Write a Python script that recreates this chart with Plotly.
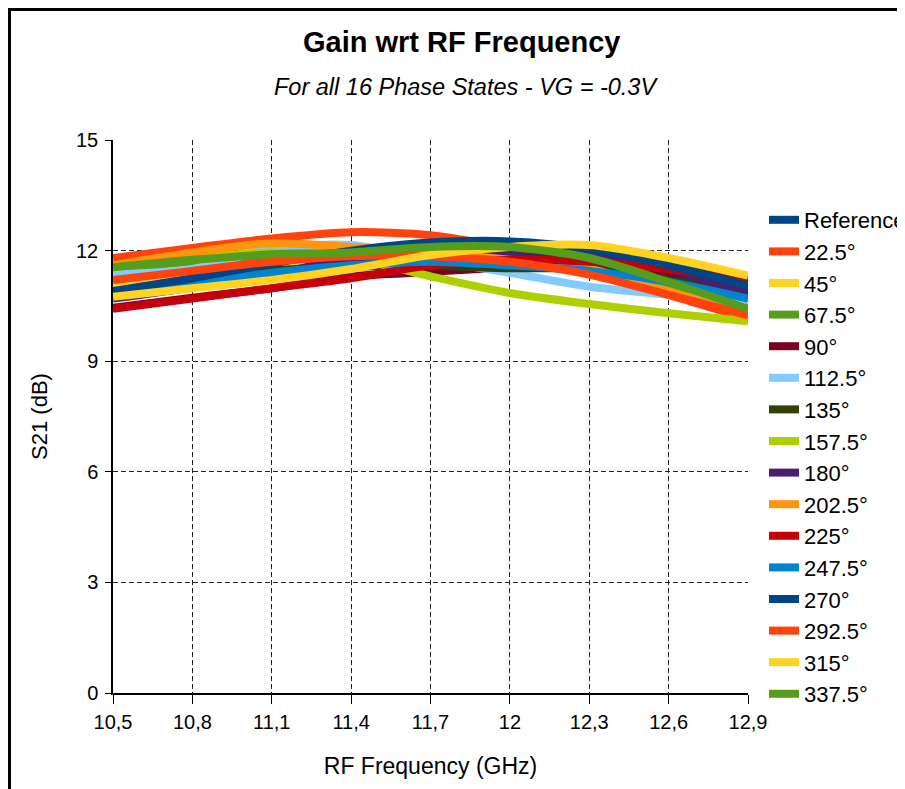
import plotly.graph_objects as go

freq = [10.5, 10.8, 11.1, 11.4, 11.7, 12.0, 12.3, 12.6, 12.9]

names = ["Reference", "22.5°", "45°", "67.5°", "90°", "112.5°", "135°", "157.5°",
         "180°", "202.5°", "225°", "247.5°", "270°", "292.5°", "315°", "337.5°"]

colors = ["#004586", "#ff420e", "#ffd320", "#579d1c", "#7e0021", "#83caff", "#314004", "#aecf00",
          "#4b1f6f", "#ff950e", "#c5000b", "#0084d1", "#004586", "#ff420e", "#ffd320", "#579d1c"]

s_ref   = [10.80, 11.15, 11.55, 11.95, 12.15, 12.20, 12.00, 11.65, 11.10]
s_22_5  = [11.80, 12.07, 12.33, 12.50, 12.42, 12.05, 11.40, 10.80, 10.15]
s_45    = [11.00, 11.25, 11.50, 11.75, 11.95, 11.95, 11.75, 11.40, 10.90]
s_67_5  = [11.50, 11.70, 11.85, 11.95, 12.05, 12.05, 11.75, 11.10, 10.40]
s_90    = [10.45, 10.72, 10.98, 11.30, 11.42, 11.55, 11.55, 11.35, 11.00]
s_112_5 = [11.35, 11.50, 12.05, 12.15, 11.75, 11.40, 11.02, 10.80, 10.55]
s_135   = [10.72, 11.05, 11.45, 11.56, 11.58, 11.52, 11.50, 11.20, 10.90]
s_157_5 = [11.55, 11.80, 11.95, 11.80, 11.30, 10.85, 10.55, 10.30, 10.08]
s_180   = [10.70, 11.00, 11.34, 11.80, 11.80, 11.93, 11.88, 11.50, 10.80]
s_202_5 = [11.60, 11.95, 12.20, 12.10, 11.95, 11.75, 11.50, 10.90, 10.20]
s_225   = [10.42, 10.70, 10.98, 11.25, 11.60, 11.75, 11.70, 11.50, 11.20]
s_247_5 = [10.80, 11.10, 11.40, 11.60, 11.70, 11.60, 11.45, 11.15, 10.70]
s_270   = [10.90, 11.25, 11.65, 12.00, 12.22, 12.25, 12.05, 11.60, 11.05]
s_292_5 = [11.20, 11.45, 11.70, 11.85, 11.85, 11.70, 11.35, 10.80, 10.25]
s_315   = [10.75, 10.98, 11.20, 11.50, 11.88, 12.10, 12.15, 11.80, 11.32]
s_337_5 = [11.55, 11.75, 11.90, 11.95, 12.10, 12.10, 11.80, 11.15, 10.42]

series = [s_ref, s_22_5, s_45, s_67_5, s_90, s_112_5, s_135, s_157_5,
          s_180, s_202_5, s_225, s_247_5, s_270, s_292_5, s_315, s_337_5]

FONT = "Liberation Sans, Arial, sans-serif"

fig = go.Figure()
for i, (nm, col, ys) in enumerate(zip(names, colors, series)):
    fig.add_trace(go.Scatter(
        x=freq, y=ys, name=nm, mode="lines",
        line=dict(color=col, width=8, shape="spline", smoothing=0.8),
        legendgroup=f"g{i}",
    ))

# page has 8px body margin; target plot area on page: x 113..748, y 140..693
W, H = 905, 789
OFF = 8
L, T = 113 - OFF, 140 - OFF
R = W - (748 - OFF)
B = H - (693 - OFF)
PX0, PX1, PY0, PY1 = 113, 748, 140, 693

def px(x):
    return (x - PX0) / (PX1 - PX0)

def py(y):
    return (PY1 - y) / (PY1 - PY0)

fig.update_layout(
    width=W, height=H,
    margin=dict(l=L, r=R, t=T, b=B, autoexpand=False),
    paper_bgcolor="white", plot_bgcolor="white",
    separators=", ",
    font=dict(family=FONT, color="black", size=20),
    showlegend=True,
    legend=dict(
        x=px(764), y=py(199), xanchor="left", yanchor="top",
        font=dict(size=22, family=FONT), tracegroupgap=0,
        itemwidth=30, bgcolor="rgba(0,0,0,0)",
    ),
    annotations=[
        dict(text="<b>Gain wrt RF Frequency</b>", x=px(461), y=py(42), xref="paper", yref="paper",
             showarrow=False, font=dict(size=29, family=FONT), xanchor="center", yanchor="middle"),
        dict(text="<i>For all 16 Phase States - VG = -0.3V</i>", x=px(466), y=py(87), xref="paper",
             yref="paper", showarrow=False, font=dict(size=23.5, family=FONT),
             xanchor="center", yanchor="middle"),
    ],
    shapes=[
        dict(type="line", xref="paper", yref="paper", x0=px(9.5), x1=px(9.5), y0=py(9.5), y1=py(820),
             line=dict(color="black", width=3)),
        dict(type="line", xref="paper", yref="paper", x0=px(8), x1=px(920), y0=py(9.5), y1=py(9.5),
             line=dict(color="black", width=3)),
    ],
)

fig.update_xaxes(
    range=[10.5, 12.9], tickmode="linear", tick0=10.5, dtick=0.3,
    showgrid=True, gridcolor="#222222", griddash="5px,3px", gridwidth=1,
    showline=True, linecolor="black", linewidth=1.5,
    ticks="outside", ticklen=9, tickcolor="black",
    ticklabelstandoff=1,
    tickfont=dict(size=20), zeroline=False,
    title=dict(text="RF Frequency (GHz)", font=dict(size=23), standoff=26),
)
fig.update_yaxes(
    range=[0, 15], tickmode="linear", tick0=0, dtick=3,
    showgrid=True, gridcolor="#222222", griddash="5px,3px", gridwidth=1,
    showline=True, linecolor="black", linewidth=1.5,
    ticks="outside", ticklen=6, tickcolor="black",
    ticklabelstandoff=3,
    tickfont=dict(size=20), zeroline=False,
    title=dict(text="S21 (dB)", font=dict(size=22), standoff=22),
)

fig.write_html("out.html")
